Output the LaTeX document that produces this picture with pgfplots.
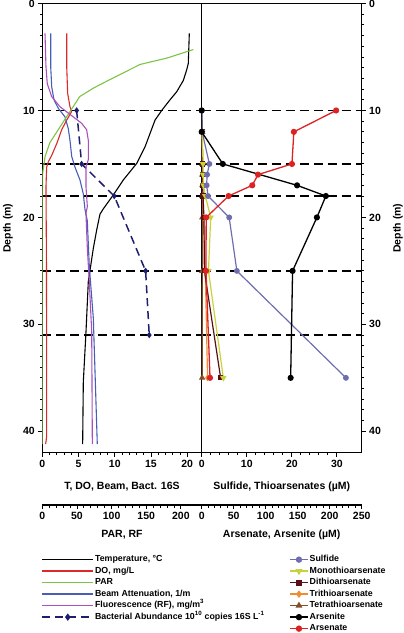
\documentclass[border=0pt]{standalone}
\usepackage{fontspec}
\setmainfont{Liberation Sans}
\usepackage{pgfplots}
\pgfplotsset{compat=1.18}
\definecolor{cDO}{RGB}{220,40,40}
\definecolor{cPAR}{RGB}{125,195,70}
\definecolor{cBeam}{RGB}{70,95,180}
\definecolor{cRF}{RGB}{170,80,190}
\definecolor{cBact}{RGB}{30,30,110}
\definecolor{cSulf}{RGB}{110,110,175}
\definecolor{cMono}{RGB}{200,210,60}
\definecolor{cDi}{RGB}{90,15,20}
\definecolor{cTri}{RGB}{240,140,50}
\definecolor{cTetra}{RGB}{130,80,40}
\definecolor{cAsV}{RGB}{220,35,35}
\pgfplotsset{
  tk/.style={scale only axis, tick align=outside,
    axis line style={line width=1.1pt},
    major tick length=4pt, minor tick length=2.5pt,
    tick style={black, line width=0.9pt},
    /pgf/number format/assume math mode=true,
    tick label style={font=\bfseries\fontsize{10.5}{12}\selectfont},
    label style={font=\bfseries\fontsize{10.5}{12}\selectfont},
  },
  base/.style={tk, y dir=reverse, ymin=0, ymax=42, height=449.2pt},
  hdash/.style={black, line width=1.4pt, dash pattern=on 9pt off 5pt, forget plot},
  leg/.style={legend style={at={(0,0)}, anchor=north west, yshift=-49pt, draw=none, fill=none,
      inner sep=0pt, row sep=0.6pt,
      font=\bfseries\fontsize{8.8}{10}\selectfont,
      nodes={inner sep=1pt, text height=6.6pt, text depth=2.3pt}},
    legend cell align=left},
}
\begin{document}
\begin{tikzpicture}
\useasboundingbox (0pt,0pt) rectangle (404pt,-633pt);
% ---------------- left panel ----------------
\begin{axis}[base, at={(42.3pt,-3.5pt)}, anchor=north west, width=159.4pt,
  xmin=0, xmax=22, xtick={0,5,10,15,20}, minor x tick num=4,
  ytick={0,10,20,30,40}, minor y tick num=9,
  xtick pos=left, ytick pos=left,
  xlabel={T, DO, Beam, Bact. 16S}, ylabel={Depth (m)},
  xlabel style={at={(axis description cs:0.5,-0.0757)}, anchor=center},
  ylabel style={at={(axis description cs:-0.2152,0.5)}, anchor=center},
]
\addplot[hdash] coordinates {(0,10) (22,10)};
\addplot[hdash] coordinates {(0,15) (22,15)};
\addplot[hdash] coordinates {(0,18) (22,18)};
\addplot[hdash] coordinates {(0,25) (22,25)};
\addplot[hdash] coordinates {(0,31) (22,31)};
% Temperature
\addplot[black, line width=1.1pt] coordinates {
(20.29,2.8) (20.15,5.6) (19.93,6.2) (19.46,7.2) (18.55,8.25) (17.63,9.0) (16.48,10.0)
(15.56,10.9) (14.87,12.15) (14.18,13.4) (13.03,14.95) (11.18,16.5) (9.8,17.9) (8.42,19.2)
(7.96,19.7) (7.5,21.2) (7.04,22.9) (6.35,26.0) (6.03,30.7) (5.66,35.4) (5.57,41.2)};
% DO
\addplot[cDO, line width=1.1pt] coordinates {
(3.37,2.8) (3.37,5.9) (3.5,8.4) (3.82,9.65) (4.05,10.1) (3.37,10.9) (2.68,11.8) (1.99,13.1)
(1.3,14.2) (0.83,14.8) (0.6,15.3) (0.51,17.1) (0.58,25) (0.6,35) (0.6,40.5) (0.46,41.2)};
% Beam attenuation
\addplot[cBeam, line width=1.1pt] coordinates {
(1.16,2.8) (1.16,5.9) (1.3,7.8) (1.61,9.0) (2.21,9.8) (3.13,10.6) (3.59,11.7) (3.82,12.8)
(4.06,14.3) (4.51,15.3) (5.2,16.5) (5.66,17.8) (5.9,19.3) (6.21,20.3) (6.49,24.6)
(7.04,29.4) (7.27,34.3) (7.59,41.2)};
% Bacterial abundance
\addplot[cBact, line width=1.5pt, dash pattern=on 8pt off 5pt, mark=diamond*, mark size=2pt,
  mark options={solid}] coordinates {(4.74,10) (5.43,15) (9.93,18) (14.26,25) (14.76,31)};
\end{axis}
% overlay PAR, RF
\begin{axis}[base, hide axis, at={(42.3pt,-3.5pt)}, anchor=north west, width=159.4pt,
  xmin=0, xmax=230]
\addplot[cPAR, line width=1.1pt] coordinates {
(218,4.3) (180,5.1) (141,5.7) (98,7.1) (74,7.9) (54,8.7) (42,9.9) (26,11.5) (11,13.0)
(4,14.3) (0.5,15.9) (0,20) (0,30) (0,41.2)};
\addplot[cRF, line width=1.1pt] coordinates {
(3.9,2.8) (5.3,5.9) (7.2,7.5) (13.5,8.7) (25.5,9.65) (44.7,10.6) (56.8,11.2) (64,11.8)
(66.4,12.8) (66.4,14.6) (63,15.3) (63,17.1) (65,19.0) (63,19.6) (65,22.9) (67.8,26.0)
(71.3,30.7) (72.2,41.2)};
\end{axis}
% detached PAR axis + left legend
\begin{axis}[tk, at={(42.3pt,-505pt)}, anchor=south west, width=159.4pt, height=1pt,
  xmin=0, xmax=230, ymin=0, ymax=1, axis x line*=bottom, axis y line=none, ytick=\empty,
  xtick={0,50,100,150,200}, minor x tick num=4,
  xlabel={PAR, RF}, xlabel style={at={(axis description cs:0.5,0)}, anchor=center, yshift=-30pt},
  leg, legend style={xshift=-1pt, /tikz/every even column/.append style={column sep=7.5pt}},
  legend image code/.code={\draw[mark repeat=2,mark phase=2,#1] plot coordinates {(0pt,0pt) (25.5pt,0pt) (51pt,0pt)};},
]
\addlegendimage{black, line width=1.5pt}
\addlegendentry{Temperature, °C}
\addlegendimage{cDO, line width=1.5pt}
\addlegendentry{DO, mg/L}
\addlegendimage{cPAR, line width=1.5pt}
\addlegendentry{PAR}
\addlegendimage{cBeam, line width=1.5pt}
\addlegendentry{Beam Attenuation, 1/m}
\addlegendimage{cRF, line width=1.5pt}
\addlegendentry{Fluorescence (RF), mg/m\textsuperscript{3}}
\addlegendimage{cBact, line width=1.6pt, dash pattern=on 8pt off 5pt, mark=diamond*, mark size=2.4pt, mark options={solid}}
\addlegendentry{Bacterial Abundance 10\textsuperscript{10} copies 16S L\textsuperscript{-1}}
\end{axis}
% ---------------- right panel ----------------
\begin{axis}[base, at={(201.7pt,-3.5pt)}, anchor=north west, width=160pt,
  xmin=0, xmax=35.5, xtick={0,10,20,30}, minor x tick num=4,
  ytick={0,10,20,30,40}, minor y tick num=9,
  xtick pos=left, ytick pos=right, yticklabel pos=right,
  xlabel={Sulfide, Thioarsenates (µM)}, ylabel={Depth (m)},
  xlabel style={at={(axis description cs:0.5,-0.0757)}, anchor=center},
  ylabel style={at={(axis description cs:1.2269,0.5)}, anchor=center},
]
\addplot[hdash] coordinates {(0,10) (35.5,10)};
\addplot[hdash] coordinates {(0,15) (35.5,15)};
\addplot[hdash] coordinates {(0,18) (35.5,18)};
\addplot[hdash] coordinates {(0,25) (35.5,25)};
\addplot[hdash] coordinates {(0,31) (35.5,31)};
% Tetrathioarsenate
\addplot[cTetra, line width=1.2pt, mark=triangle*, mark size=2.6pt] coordinates {
(0.1,12) (0.15,15) (0.15,16) (0.15,17) (0.15,18) (0.15,20) (0.15,25) (0.1,35)};
% Trithioarsenate
\addplot[cTri, line width=1.2pt, mark=diamond*, mark size=2.4pt] coordinates {
(0.1,12) (0.2,15) (0.2,16) (0.2,17) (0.3,18) (0.4,20) (0.8,25) (1.3,35)};
% Dithioarsenate
\addplot[cDi, line width=1.2pt, mark=square*, mark size=2pt] coordinates {
(0.1,12) (0.2,15) (0.2,16) (0.2,17) (0.3,18) (0.5,20) (0.6,25) (4.2,35)};
% Monothioarsenate
\addplot[cMono, line width=1.2pt, mark=triangle*, mark size=2.6pt, mark options={rotate=180}] coordinates {
(0.1,12) (0.3,15) (0.3,16) (0.4,17) (0.8,18) (2.0,20) (1.5,25) (4.8,35)};
% Sulfide
\addplot[cSulf, line width=1.2pt, mark=*, mark size=2.3pt] coordinates {
(0,10) (0.1,12) (1.7,15) (1.2,16) (1.1,17) (1.4,18) (6.1,20) (7.8,25) (32,35)};
\end{axis}
% overlay arsenite, arsenate
\begin{axis}[base, hide axis, at={(201.7pt,-3.5pt)}, anchor=north west, width=160pt,
  xmin=0, xmax=250]
\addplot[black, line width=1.3pt, mark=*, mark size=2.4pt] coordinates {
(0,10) (0,12) (33,15) (149,17) (194,18) (180,20) (142,25) (139,35)};
\addplot[cAsV, line width=1.3pt, mark=*, mark size=2.4pt] coordinates {
(210,10) (144,12) (141,15) (88,16) (79,17) (42,18) (7,20) (6.7,25) (13,35)};
\end{axis}
% detached arsenate axis + right legend
\begin{axis}[tk, at={(201.7pt,-505pt)}, anchor=south west, width=160pt, height=1pt,
  xmin=0, xmax=250, ymin=0, ymax=1, axis x line*=bottom, axis y line=none, ytick=\empty,
  xtick={0,50,100,150,200,250}, minor x tick num=4,
  xlabel={Arsenate, Arsenite (µM)}, xlabel style={at={(axis description cs:0.5,0)}, anchor=center, yshift=-30pt},
  leg, legend style={xshift=87.3pt, /tikz/every even column/.append style={column sep=7pt}},
  legend image code/.code={\draw[mark repeat=2,mark phase=2,#1] plot coordinates {(0pt,0pt) (9pt,0pt) (18pt,0pt)};},
]
\addlegendimage{cSulf, line width=1.5pt, mark=*, mark size=2.4pt}
\addlegendentry{Sulfide}
\addlegendimage{cMono, line width=1.5pt, mark=triangle*, mark size=2.6pt, mark options={rotate=180}}
\addlegendentry{Monothioarsenate}
\addlegendimage{cDi, line width=1.5pt, mark=square*, mark size=2.1pt}
\addlegendentry{Dithioarsenate}
\addlegendimage{cTri, line width=1.5pt, mark=diamond*, mark size=2.6pt}
\addlegendentry{Trithioarsenate}
\addlegendimage{cTetra, line width=1.5pt, mark=triangle*, mark size=2.6pt}
\addlegendentry{Tetrathioarsenate}
\addlegendimage{black, line width=1.5pt, mark=*, mark size=2.4pt}
\addlegendentry{Arsenite}
\addlegendimage{cAsV, line width=1.5pt, mark=*, mark size=2.4pt}
\addlegendentry{Arsenate}
\end{axis}
\end{tikzpicture}
\end{document}
